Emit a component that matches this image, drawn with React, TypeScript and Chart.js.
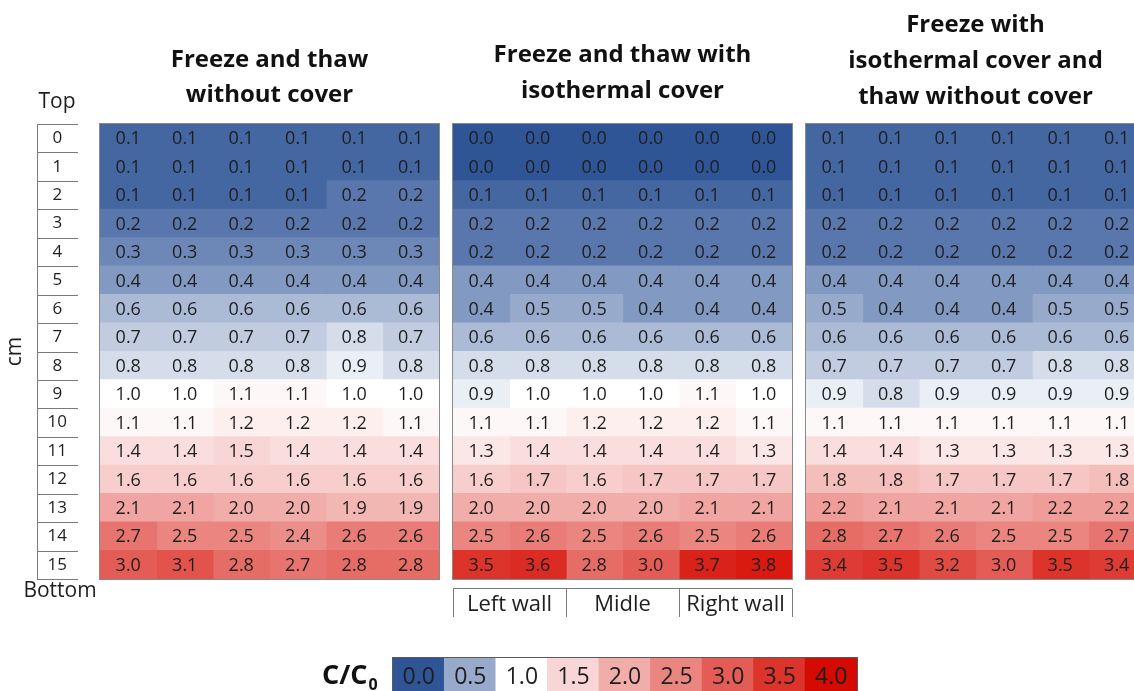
import React, { useEffect, useRef } from "react";
import { Chart, registerables } from "chart.js";

Chart.register(...registerables);

// ---------- data ----------
const depthLabels = ["0", "1", "2", "3", "4", "5", "6", "7", "8", "9", "10", "11", "12", "13", "14", "15"];
const columnIds = [0, 1, 2, 3, 4, 5];
const wallLabels = ["Left wall", "Midle", "Right wall"];
const wallCenters = [1, 3, 5];
const wallEdges = [0, 2, 4, 6];
const legendTicks = [0, 0.5, 1, 1.5, 2, 2.5, 3, 3.5, 4];

const titleA = ["Freeze and thaw", "without cover"];
const titleB = ["Freeze and thaw with", "isothermal cover"];
const titleC = ["Freeze with", "isothermal cover and", "thaw without cover"];

const withoutCover = [
  [0.1, 0.1, 0.1, 0.1, 0.1, 0.1],
  [0.1, 0.1, 0.1, 0.1, 0.1, 0.1],
  [0.1, 0.1, 0.1, 0.1, 0.2, 0.2],
  [0.2, 0.2, 0.2, 0.2, 0.2, 0.2],
  [0.3, 0.3, 0.3, 0.3, 0.3, 0.3],
  [0.4, 0.4, 0.4, 0.4, 0.4, 0.4],
  [0.6, 0.6, 0.6, 0.6, 0.6, 0.6],
  [0.7, 0.7, 0.7, 0.7, 0.8, 0.7],
  [0.8, 0.8, 0.8, 0.8, 0.9, 0.8],
  [1.0, 1.0, 1.1, 1.1, 1.0, 1.0],
  [1.1, 1.1, 1.2, 1.2, 1.2, 1.1],
  [1.4, 1.4, 1.5, 1.4, 1.4, 1.4],
  [1.6, 1.6, 1.6, 1.6, 1.6, 1.6],
  [2.1, 2.1, 2.0, 2.0, 1.9, 1.9],
  [2.7, 2.5, 2.5, 2.4, 2.6, 2.6],
  [3.0, 3.1, 2.8, 2.7, 2.8, 2.8],
];

const withCover = [
  [0.0, 0.0, 0.0, 0.0, 0.0, 0.0],
  [0.0, 0.0, 0.0, 0.0, 0.0, 0.0],
  [0.1, 0.1, 0.1, 0.1, 0.1, 0.1],
  [0.2, 0.2, 0.2, 0.2, 0.2, 0.2],
  [0.2, 0.2, 0.2, 0.2, 0.2, 0.2],
  [0.4, 0.4, 0.4, 0.4, 0.4, 0.4],
  [0.4, 0.5, 0.5, 0.4, 0.4, 0.4],
  [0.6, 0.6, 0.6, 0.6, 0.6, 0.6],
  [0.8, 0.8, 0.8, 0.8, 0.8, 0.8],
  [0.9, 1.0, 1.0, 1.0, 1.1, 1.0],
  [1.1, 1.1, 1.2, 1.2, 1.2, 1.1],
  [1.3, 1.4, 1.4, 1.4, 1.4, 1.3],
  [1.6, 1.7, 1.6, 1.7, 1.7, 1.7],
  [2.0, 2.0, 2.0, 2.0, 2.1, 2.1],
  [2.5, 2.6, 2.5, 2.6, 2.5, 2.6],
  [3.5, 3.6, 2.8, 3.0, 3.7, 3.8],
];

const coverFreezeOnly = [
  [0.1, 0.1, 0.1, 0.1, 0.1, 0.1],
  [0.1, 0.1, 0.1, 0.1, 0.1, 0.1],
  [0.1, 0.1, 0.1, 0.1, 0.1, 0.1],
  [0.2, 0.2, 0.2, 0.2, 0.2, 0.2],
  [0.2, 0.2, 0.2, 0.2, 0.2, 0.2],
  [0.4, 0.4, 0.4, 0.4, 0.4, 0.4],
  [0.5, 0.4, 0.4, 0.4, 0.5, 0.5],
  [0.6, 0.6, 0.6, 0.6, 0.6, 0.6],
  [0.7, 0.7, 0.7, 0.7, 0.8, 0.8],
  [0.9, 0.8, 0.9, 0.9, 0.9, 0.9],
  [1.1, 1.1, 1.1, 1.1, 1.1, 1.1],
  [1.4, 1.4, 1.3, 1.3, 1.3, 1.3],
  [1.8, 1.8, 1.7, 1.7, 1.7, 1.8],
  [2.2, 2.1, 2.1, 2.1, 2.2, 2.2],
  [2.8, 2.7, 2.6, 2.5, 2.5, 2.7],
  [3.4, 3.5, 3.2, 3.0, 3.5, 3.4],
];

const panelValues = [withoutCover, withCover, coverFreezeOnly];
const panelTitles = [titleA, titleB, titleC];

// ---------- layout / style ----------
const PAGE_W = 1160;
const PAGE_H = 700;
const PANEL_LEFT = [100, 453, 806];
const PANEL_W = 339;
const PANEL_TOP = 124;
const PANEL_BOTTOM = 579;
const XAXIS_H = 40;
const TITLE_Y = [[60, 95], [55, 91], [25, 61, 97]];
const LEG = { left: 393, right: 857, top: 658, bottom: 695 };
const FONT = "'Open Sans', sans-serif";
const TEXT = "#1e1e1e";
const LINE = "#8a8a8a";

const BLUE = [47, 85, 151];
const WHITE = [255, 255, 255];
const RED = [213, 10, 0];

function heatColor(v: number): string {
  let a: number[], b: number[], t: number;
  if (v <= 1) {
    a = BLUE; b = WHITE; t = v;
  } else {
    a = WHITE; b = RED; t = (v - 1) / 3;
  }
  t = Math.max(0, Math.min(1, t));
  const c = a.map((x, i) => Math.round(x + (b[i] - x) * t));
  return `rgb(${c[0]},${c[1]},${c[2]})`;
}

function makePanel(canvas: HTMLCanvasElement, p: number): Chart {
  const values = panelValues[p];
  const left = PANEL_LEFT[p];
  const showY = p === 0;
  const showX = p === 1;
  const datasets = columnIds.map((c) => ({
    label: `col${c}`,
    data: values.map(() => [c, c + 1]),
    backgroundColor: values.map((row) => heatColor(row[c])),
    borderWidth: 0,
    barPercentage: 1,
    categoryPercentage: 1,
    grouped: false,
    inflateAmount: 0.6,
  }));

  const decor = {
    id: "panelDecor" + p,
    afterDatasetsDraw(chart: any) {
      const { ctx, chartArea: a } = chart;
      ctx.save();
      ctx.textAlign = "center";
      ctx.textBaseline = "middle";
      ctx.fillStyle = TEXT;
      ctx.font = `18px ${FONT}`;
      columnIds.forEach((c) => {
        chart.getDatasetMeta(c).data.forEach((el: any, r: number) => {
          const cx = (el.x + el.base) / 2;
          ctx.fillText(values[r][c].toFixed(1), cx, el.y + 1);
        });
      });
      // frame
      ctx.strokeStyle = LINE;
      ctx.lineWidth = 1;
      ctx.strokeRect(Math.round(a.left) - 0.5, Math.round(a.top) - 0.5, Math.round(a.right - a.left) + 1, Math.round(a.bottom - a.top) + 1);
      // title
      ctx.fillStyle = "#111";
      ctx.font = `bold 24px ${FONT}`;
      const cx = (a.left + a.right) / 2;
      panelTitles[p].forEach((t, i) => ctx.fillText(t, cx, TITLE_Y[p][i]));

      if (p === 0) {
        const rowH = (a.bottom - a.top) / depthLabels.length;
        ctx.strokeStyle = "#7a7a7a";
        ctx.beginPath();
        ctx.moveTo(37.5, a.top);
        ctx.lineTo(37.5, a.bottom);
        for (let k = 0; k <= depthLabels.length; k++) {
          const y = Math.round(a.top + k * rowH) + 0.5;
          ctx.moveTo(37, y);
          ctx.lineTo(78, y);
        }
        ctx.stroke();
        ctx.fillStyle = TEXT;
        ctx.font = `21px ${FONT}`;
        ctx.fillText("Top", 57, 102);
        ctx.fillText("Bottom", 60, 591);
      }
      if (p === 1) {
        const xs = chart.scales.x;
        const yTop = 588.5;
        ctx.strokeStyle = "#7a7a7a";
        ctx.beginPath();
        ctx.moveTo(xs.getPixelForValue(wallEdges[0]), yTop);
        ctx.lineTo(xs.getPixelForValue(wallEdges[wallEdges.length - 1]), yTop);
        wallEdges.forEach((v) => {
          const x = Math.round(xs.getPixelForValue(v)) + 0.5;
          ctx.moveTo(x, yTop);
          ctx.lineTo(x, 617);
        });
        ctx.stroke();
      }
      ctx.restore();
    },
  };

  return new Chart(canvas, {
    type: "bar",
    data: { labels: depthLabels, datasets: datasets as any },
    options: {
      responsive: false,
      animation: false,
      devicePixelRatio: 1,
      indexAxis: "y",
      layout: {
        padding: {
          left: showY ? 0 : left,
          right: PAGE_W - left - PANEL_W,
          top: PANEL_TOP,
          bottom: PAGE_H - PANEL_BOTTOM - (showX ? XAXIS_H : 0),
        },
      },
      plugins: {
        legend: { display: false },
        tooltip: { enabled: false },
        title: { display: false },
      },
      scales: {
        y: {
          type: "category",
          offset: true,
          display: showY,
          grid: { display: false, drawTicks: false },
          border: { display: false },
          ticks: {
            padding: 33,
            crossAlign: "center",
            autoSkip: false,
            color: TEXT,
            font: { family: FONT, size: 17 },
          },
          title: {
            display: showY,
            text: "cm",
            color: TEXT,
            font: { family: FONT, size: 21 },
            padding: { top: 2, bottom: 0 },
          },
          afterFit: (s: any) => {
            if (!showY) return;
            s.width = left;
            s.paddingTop = 0;
            s.paddingBottom = 0;
          },
        } as any,
        x: {
          type: "linear",
          min: 0,
          max: 6,
          display: showX,
          grid: { display: false, drawTicks: false },
          border: { display: false },
          afterBuildTicks: (s: any) => {
            s.ticks = wallCenters.map((v) => ({ value: v }));
          },
          ticks: {
            padding: 13,
            autoSkip: false,
            maxRotation: 0,
            minRotation: 0,
            color: TEXT,
            font: { family: FONT, size: 22 },
            callback: (_v: any, i: number) => wallLabels[i],
          },
          afterFit: (s: any) => {
            if (!showX) return;
            s.height = XAXIS_H;
            s.paddingLeft = 0;
            s.paddingRight = 0;
          },
        } as any,
      },
    },
    plugins: [decor as any],
  });
}

function makeLegend(canvas: HTMLCanvasElement): Chart {
  const decor = {
    id: "legendDecor",
    afterDatasetsDraw(chart: any) {
      const { ctx, chartArea: a } = chart;
      ctx.save();
      ctx.textAlign = "center";
      ctx.textBaseline = "middle";
      ctx.fillStyle = TEXT;
      ctx.font = `23px ${FONT}`;
      chart.getDatasetMeta(0).data.forEach((el: any, i: number) => {
        ctx.fillText(legendTicks[i].toFixed(1), el.x, (el.y + el.base) / 2 + 1);
      });
      ctx.strokeStyle = "#5a5a5a";
      ctx.lineWidth = 1;
      ctx.strokeRect(Math.round(a.left) - 0.5, Math.round(a.top) - 0.5, Math.round(a.right - a.left) + 1, Math.round(a.bottom - a.top) + 1);
      // C/C0 label
      ctx.textAlign = "left";
      ctx.fillStyle = "#111";
      ctx.font = `bold 27px ${FONT}`;
      const w = ctx.measureText("C/C").width;
      const x0 = 322;
      ctx.fillText("C/C", x0, 676);
      ctx.font = `bold 16px ${FONT}`;
      ctx.fillText("0", x0 + w + 1, 685);
      ctx.restore();
    },
  };
  return new Chart(canvas, {
    type: "bar",
    data: {
      labels: legendTicks.map((v) => v.toFixed(1)),
      datasets: [
        {
          label: "C/C0",
          data: legendTicks.map(() => 1),
          backgroundColor: legendTicks.map(heatColor),
          borderWidth: 0,
          barPercentage: 1,
          categoryPercentage: 1,
          inflateAmount: 0.6,
        } as any,
      ],
    },
    options: {
      responsive: false,
      animation: false,
      devicePixelRatio: 1,
      layout: {
        padding: { left: LEG.left, right: PAGE_W - LEG.right, top: LEG.top, bottom: PAGE_H - LEG.bottom },
      },
      plugins: { legend: { display: false }, tooltip: { enabled: false } },
      scales: {
        x: { type: "category", offset: true, display: false },
        y: { type: "linear", min: 0, max: 1, display: false },
      },
    },
    plugins: [decor as any],
  });
}

export default function App() {
  const refs = useRef<(HTMLCanvasElement | null)[]>([]);
  useEffect(() => {
    const charts: Chart[] = [];
    [0, 1, 2].forEach((p) => {
      const c = refs.current[p];
      if (c) charts.push(makePanel(c, p));
    });
    const lc = refs.current[3];
    if (lc) charts.push(makeLegend(lc));
    return () => charts.forEach((c) => c.destroy());
  }, []);

  return (
    <div
      style={{
        position: "fixed",
        left: 0,
        top: 0,
        width: 1134,
        height: 691,
        overflow: "hidden",
        background: "#fff",
      }}
    >
      {[0, 1, 2, 3].map((i) => (
        <canvas
          key={i}
          ref={(el) => {
            refs.current[i] = el;
          }}
          width={PAGE_W}
          height={PAGE_H}
          style={{ position: "absolute", left: 0, top: 0, width: PAGE_W, height: PAGE_H }}
        />
      ))}
    </div>
  );
}
